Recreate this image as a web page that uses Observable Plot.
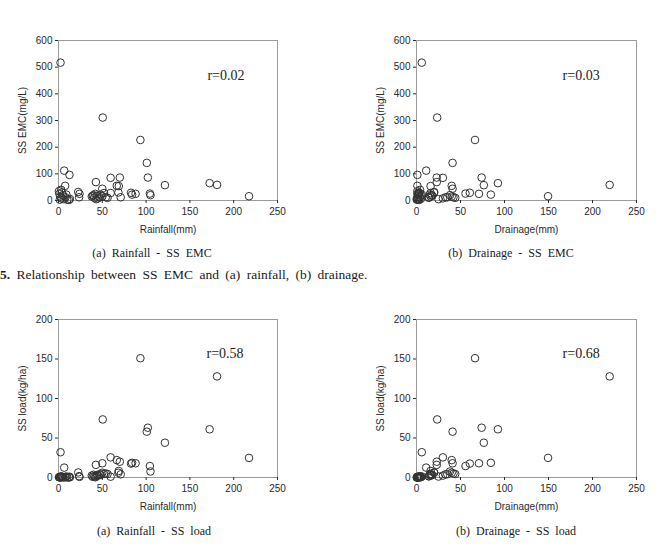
<!DOCTYPE html>
<html>
<head>
<meta charset="utf-8">
<script src="https://cdn.jsdelivr.net/npm/d3@7"></script>
<script src="https://cdn.jsdelivr.net/npm/@observablehq/plot@0.6"></script>
<style>
  html, body { margin: 0; padding: 0; background: #fff; }
  body { width: 670px; height: 545px; overflow: hidden; position: relative; }
  .panel { position: absolute; }
  .serif { position: absolute; font-family: "Liberation Serif", "Times New Roman", serif; color: #1a1a1a; white-space: nowrap; line-height: 1; }
  .sub { font-size: 12px; word-spacing: 3px; transform: translateX(-50%); }
  .caption { font-size: 13.5px; word-spacing: 3px; }
</style>
</head>
<body>
<script>
// Storm events: rainfall depth, drainage depth, SS event mean concentration and SS load
const rainfall = [2.3, 50.5, 93.5, 100.8, 6.5, 12.5, 102, 172.5, 181, 121.5, 217.5, 59.5, 70, 42.7, 66.5, 68.8, 7.6, 50,
  82.8, 88, 104.3, 105, 84, 59.5, 68.4, 71, 22.5, 24, 23.5,
  0.5, 1, 2, 3, 1.5, 4, 5, 6, 8, 10, 12, 13, 3, 9,
  38, 40, 41, 44, 45, 47, 48, 50, 52, 54, 56, 43, 39, 42];
const drainage = [6, 23.5, 66.5, 41, 11, 1, 74, 92.5, 219.5, 76.5, 149.5, 30, 23, 23, 40, 16, 1, 41,
  60.6, 71, 55.7, 38, 84.5, 3, 20, 33, 20, 3, 14,
  1, 2, 1.5, 0.5, 0.3, 3, 2.5, 1, 4, 2, 3, 5, 4, 6,
  16, 17, 14, 18, 30, 35, 15, 40, 16, 42, 44, 25, 5, 1];
const emc = [517, 311, 227, 141, 112, 96, 86, 65, 58.5, 57.5, 16, 85, 86, 69, 55, 54, 55, 44,
  29, 25, 26, 20, 22, 28, 30, 12, 32, 25, 12,
  35, 25, 15, 8, 3, 30, 20, 5, 12, 3, 2, 6, 40, 22,
  15, 20, 10, 18, 8, 12, 22, 15, 28, 12, 10, 5, 18, 25];
const load = [32, 73.5, 151, 58, 12.5, 1, 63, 61, 128, 44, 24.8, 25.5, 20, 16, 22, 8.3, 0.5, 18,
  17.6, 18, 14.5, 7.6, 18.6, 1, 6, 4, 6.4, 0.8, 1.7,
  0.4, 0.5, 0.2, 0.1, 0, 0.9, 0.5, 0.1, 0.5, 0.1, 0.1, 0.3, 1.6, 1.3,
  2.4, 3.4, 1.4, 3.2, 2.4, 4.2, 3.3, 6, 4.5, 5, 4.4, 1.2, 0.9, 0.3];

// Axis ticks and correlation coefficients
const depthTicks = [0, 50, 100, 150, 200, 250];
const emcTicks = [0, 100, 200, 300, 400, 500, 600];
const loadTicks = [0, 50, 100, 150, 200];
const rValues = ["r=0.02", "r=0.03", "r=0.58", "r=0.68"];
const subtitles = ["(a) Rainfall - SS EMC", "(b) Drainage - SS EMC", "(a) Rainfall - SS load", "(b) Drainage - SS load"];

const panels = [
  {xs: rainfall, ys: emc, xLabel: "Rainfall(mm)", yLabel: "SS EMC(mg/L)", yTicks: emcTicks, r: rValues[0], rAt: [170, 470], left: 58, top: 40, w: 219, h: 160, sub: subtitles[0], subX: 152, subY: 253},
  {xs: drainage, ys: emc, xLabel: "Drainage(mm)", yLabel: "SS EMC(mg/L)", yTicks: emcTicks, r: rValues[1], rAt: [166, 470], left: 416, top: 40, w: 220, h: 160, sub: subtitles[1], subX: 511, subY: 253},
  {xs: rainfall, ys: load, xLabel: "Rainfall(mm)", yLabel: "SS load(kg/ha)", yTicks: loadTicks, r: rValues[2], rAt: [169, 157], left: 58, top: 319, w: 219, h: 158, sub: subtitles[2], subX: 154, subY: 531},
  {xs: drainage, ys: load, xLabel: "Drainage(mm)", yLabel: "SS load(kg/ha)", yTicks: loadTicks, r: rValues[3], rAt: [166, 157], left: 416, top: 319, w: 220, h: 158, sub: subtitles[3], subX: 516, subY: 531}
];

const mL = 60, mT = 10, mR = 10, mB = 40;

for (const p of panels) {
  const pts = p.xs.map((x, i) => ({x, y: p.ys[i]}));
  const yMax = p.yTicks[p.yTicks.length - 1];
  const chart = Plot.plot({
    width: mL + p.w + mR,
    height: mT + p.h + mB,
    marginLeft: mL, marginTop: mT, marginRight: mR, marginBottom: mB,
    style: {fontFamily: "'Liberation Sans', Arial, sans-serif", fontSize: "10px", color: "#2a2a2a", background: "transparent"},
    x: {domain: [0, 250]},
    y: {domain: [0, yMax]},
    marks: [
      Plot.frame({stroke: "#9b9b9b"}),
      Plot.axisX({ticks: depthTicks, tickSize: 3, tickPadding: 4, label: p.xLabel, labelAnchor: "center", labelArrow: "none", labelOffset: 32}),
      Plot.axisY({ticks: p.yTicks, tickSize: 3, tickPadding: 3, label: p.yLabel, labelAnchor: "center", labelArrow: "none", labelOffset: 40}),
      Plot.dot(pts, {x: "x", y: "y", r: 3.8, stroke: "#333", strokeWidth: 1, fill: "none"}),
      Plot.text([p.r], {x: () => p.rAt[0], y: () => p.rAt[1], text: d => d, textAnchor: "start", fontFamily: "'Liberation Serif', 'Times New Roman', serif", fontSize: 14, fill: "#222"})
    ]
  });
  chart.classList.add("panel");
  chart.style.left = (p.left - mL) + "px";
  chart.style.top = (p.top - mT) + "px";
  document.body.appendChild(chart);

  const s = document.createElement("div");
  s.className = "serif sub";
  s.textContent = p.sub;
  s.style.left = p.subX + "px";
  s.style.top = (p.subY - 6) + "px";
  document.body.appendChild(s);
}

const cap = document.createElement("div");
cap.className = "serif caption";
cap.innerHTML = "<b>5.</b> Relationship between SS EMC and (a) rainfall, (b) drainage.";
cap.style.left = "0px";
cap.style.top = "268px";
document.body.appendChild(cap);
</script>
</body>
</html>
